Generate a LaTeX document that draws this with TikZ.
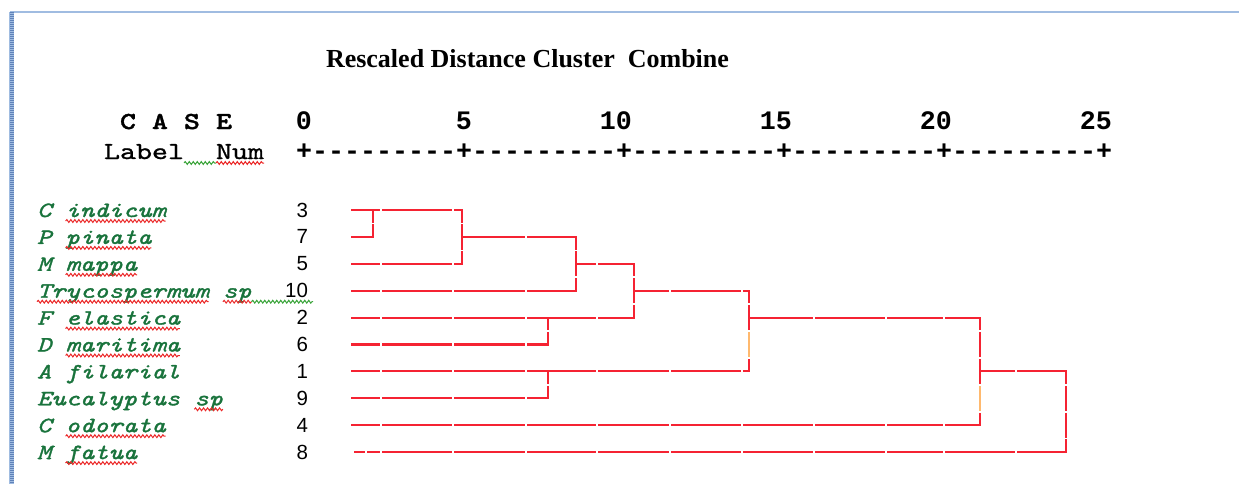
\documentclass[tikz,border=0pt]{standalone}
\usepackage{fontspec}
\setmainfont{Liberation Serif}
\newfontfamily\sansfont{Liberation Sans}
\newfontfamily\libmono{Liberation Mono}
% wide typewriter faces: one character cell = 0.65625 em
\newfontfamily\lmwide{lmmono10-regular.otf}[FakeStretch=1.25,FakeBold=1]
\newfontfamily\lmwidebold{lmmonolt10-bold.otf}[FakeStretch=1.25,FakeBold=1.5]
\newfontfamily\lmwideit{lmmono10-italic.otf}[FakeStretch=1.25,FakeBold=1.5]
\usetikzlibrary{decorations.pathmorphing}
\definecolor{denred}{RGB}{245,35,50}
\definecolor{denorange}{RGB}{255,185,110}
\definecolor{labgreen}{RGB}{25,115,60}
\definecolor{framebl}{RGB}{160,188,225}
\definecolor{framedk}{RGB}{95,130,185}
\definecolor{wavyred}{RGB}{235,40,40}
\definecolor{wavygreen}{RGB}{60,165,60}
\begin{document}
\begin{tikzpicture}[x=1pt,y=-1pt,
  txt/.style={inner sep=0pt,outer sep=0pt,anchor=base west},
  axisfont/.style={font=\libmono\bfseries\fontsize{26.67}{30}\selectfont},
  casefont/.style={font=\lmwidebold\fontsize{24.38}{28}\selectfont},
  hdr/.style={txt,font=\lmwide\fontsize{24.38}{28}\selectfont},
  lab/.style={txt,text=labgreen,font=\lmwideit\fontsize{21.8}{26}\selectfont},
  num/.style={inner sep=0pt,outer sep=0pt,anchor=base east,font=\sansfont\fontsize{20.5}{24}\selectfont},
  den/.style={draw=denred,line width=2.1pt,line cap=rect},
  denor/.style={draw=denorange,line width=2.1pt},
  gap/.style={draw=white,line width=1.6pt},
  wavy/.style={line width=1pt,decorate,decoration={snake,segment length=4pt,amplitude=1.4pt}},
]
\useasboundingbox (0,0) rectangle (1239,484);

% window frame
\draw[framebl,line width=1.6pt] (10,12) -- (1239,12);
\fill[framebl] (9,12) rectangle (14,484);
\draw[framedk,line width=4pt,dash pattern=on 1pt off 1pt] (11.5,12) -- (11.5,484);

% title
\node[txt,font=\bfseries\fontsize{26}{30}\selectfont] (title) at (326,68)
  {Rescaled Distance Cluster\hspace{0.25em} Combine};

% header and scale
\node[txt,casefont] (case) at (120,129) {C A S E};
\node[hdr] (labhdr) at (104,159) {Label};
\node[hdr] (numhdr) at (216,159) {Num};
\draw[wavygreen,wavy] (184,163) -- (216,163);
\draw[wavyred,wavy] (216,163) -- (264,163);
\foreach \t/\xr in {0/312,5/472,10/632,15/792,20/952,25/1112}
  \node[inner sep=0pt,anchor=base east,axisfont] (ax\t) at (\xr,129) {\t};
\node[txt,axisfont] (scale) at (296,159)
  {+---------+---------+---------+---------+---------+};

% case labels and numbers
\foreach \i/\lab/\n in {1/{C indicum}/3,2/{P pinata}/7,3/{M mappa}/5,
    4/{Trycospermum sp}/10,5/{F elastica}/2,6/{D maritima}/6,
    7/{A filarial}/1,8/{Eucalyptus sp}/9,9/{C odorata}/4,10/{M fatua}/8}{
  \pgfmathsetmacro{\yb}{210+26.9*(\i-1)+7}
  \node[lab] (lab\n) at (37,\yb) {\lab};
  \node[num] (num\n) at (308,\yb) {\n};
}

% spelling marks under the labels
\foreach \i/\xa/\xb in {1/65.6/165.7,2/65.6/151.4,3/65.6/137.1,4/37/208.6,
    4/222.9/251.5,5/65.6/179.9,6/65.6/179.9,8/194.3/222.9,9/65.6/165.7,10/65.6/137.1}{
  \pgfmathsetmacro{\yw}{210+26.9*(\i-1)+11}
  \draw[wavyred,wavy] (\xa,\yw) -- (\xb,\yw);
}
\draw[wavygreen,wavy] (251.5,301.7) -- (313,301.7);

% leaves
\coordinate (c3) at (352,210);
\coordinate (c7) at (352,236.9);
\coordinate (c5) at (352,263.8);
\coordinate (c10) at (352,290.7);
\coordinate (c2) at (352,317.6);
\coordinate (c6) at (352,344.5);
\coordinate (c1) at (352,371.4);
\coordinate (c9) at (352,398.3);
\coordinate (c4) at (352,425.2);
\coordinate (c8) at (355,452.1);
% merge levels
\coordinate (j37) at (373,0);
\coordinate (j375) at (462,0);
\coordinate (j10) at (576,0);
\coordinate (j26) at (548,0);
\coordinate (j19) at (548,0);
\coordinate (jA) at (634,0);
\coordinate (jB) at (749,0);
\coordinate (jC) at (980,0);
\coordinate (jD) at (1066,0);

\draw[den] (c3) -- (c3 -| j375);
\draw[den] (c7) -- (c7 -| j37);
\draw[den] (c3 -| j37) -- (c7 -| j37);
\draw[den] (c5) -- (c5 -| j375);
\draw[den] (c3 -| j375) -- (c5 -| j375);
\draw[den] (c7 -| j375) -- (c7 -| j10);
\draw[den] (c10) -- (c10 -| j10);
\draw[den] (c7 -| j10) -- (c10 -| j10);
\draw[den] (c5 -| j10) -- (c5 -| jA);
\draw[den] (c2) -- (c2 -| jA);
\draw[den] (c6) -- (c6 -| j26);
\draw[den] (c2 -| j26) -- (c6 -| j26);
\draw[den] (c5 -| jA) -- (c2 -| jA);
\draw[den] (c10 -| jA) -- (c10 -| jB);
\draw[den] (c1) -- (c1 -| jB);
\draw[den] (c9) -- (c9 -| j19);
\draw[den] (c1 -| j19) -- (c9 -| j19);
\draw[den] (c10 -| jB) -- (c1 -| jB);
\draw[den] (c2 -| jB) -- (c2 -| jC);
\draw[den] (c4) -- (c4 -| jC);
\draw[den] (c2 -| jC) -- (c4 -| jC);
\draw[den] (c1 -| jC) -- (c1 -| jD);
\draw[den] (c8) -- (c8 -| jD);
\draw[den] (c1 -| jD) -- (c8 -| jD);
\draw[denor] (749,331.05) -- (749,357.95);
\draw[denor] (980,384.85) -- (980,411.75);

% character-cell breaks in the lines
\foreach \gx in {381,453,526,597,670,742,814,886,944,1016}
  \draw[gap] (\gx,200) -- (\gx,462);
\draw[gap] (366,445) -- (366,460);
\foreach \k in {1,...,9}{
  \pgfmathsetmacro{\yg}{210+26.9*(\k-0.5)}
  \draw[gap] (360,\yg) -- (1080,\yg);
}
\end{tikzpicture}
\end{document}
